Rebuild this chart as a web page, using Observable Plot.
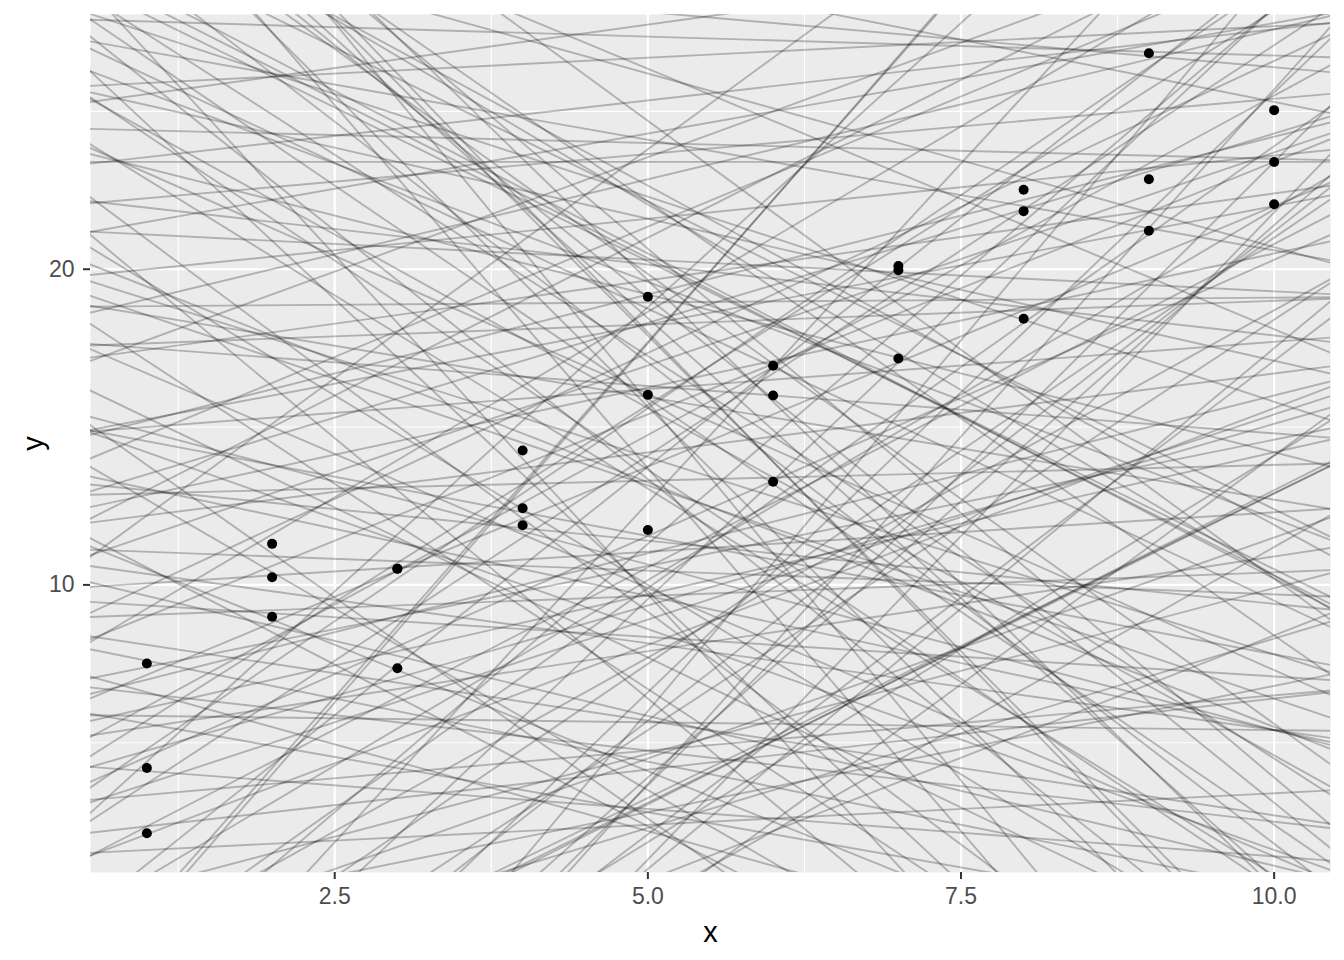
<!DOCTYPE html>
<html>
<head>
<meta charset="utf-8">
<script src="https://cdn.jsdelivr.net/npm/d3@7"></script>
<script src="https://cdn.jsdelivr.net/npm/@observablehq/plot@0.6"></script>
<style>
  html, body { margin: 0; padding: 0; background: white; }
  #chart svg { display: block; }
</style>
</head>
<body>
<div id="chart"></div>
<script>
// Observed points (sim1)
const xs = [1,1,1, 2,2,2, 3,3,3, 4,4,4, 5,5,5, 6,6,6, 7,7,7, 8,8,8, 9,9,9, 10,10,10];
const ys = [4.20,7.51,2.13, 8.99,10.24,11.30, 7.36,10.51,10.51, 12.43,11.89,14.26,
            19.13,11.74,16.02, 13.27,16.00,16.94, 20.10,17.17,19.97, 21.84,22.52,18.43,
            26.84,22.85,21.22, 25.04,23.40,22.06];

// Candidate models (intercept a1, slope a2)
const intercepts = [
  23.4, 18.8, 27.97, 33.2, 30.4, 30.0, 30.8, -6.7, -6.9, -6.4,
  -4.8, -5.1, 12.3, 5.2, 35.1, 38.5, 2.1, -12.4, 8.7, 15.6,
  21.9, 26.1, 11.2, -3.3, 16.9, 39.2, 0.8, -17.5, 7.4, 24.8,
  13.9, 19.7, 9.8, 4.4, 28.3, -9.8, 31.7, 17.2, 3.6, -1.2,
  22.4, 6.9, 36.7, -14.9, 14.5, 25.7, 10.6, 1.9, 33.8, -7.6,
  20.3, 8.1, 29.4, -2.5, 12.8, 37.4, 5.9, 18.1, -11.3, 27.1,
  15.0, 2.8, 23.9, 9.3, -19.2, 31.2, 7.7, 16.3, -5.7, 34.6,
  12.1, 21.3, 0.3, 26.6, 4.9, -8.9, 19.2, 38.9, 11.7, 6.3,
  24.2, -0.6, 14.2, 30.0, -13.6, 17.8, 3.2, 35.9, 8.9, 22.9,
  -4.1, 13.4, 28.8, 1.4, 20.8, 32.3, 10.2, -16.1, 25.3, 5.5,
  39.8, 15.9, -10.4, 19.6, 7.0, 27.6, -2.0, 12.6, 33.4, 2.4,
  23.1, 16.6, -7.1, 36.2, 9.6, 21.0, -18.3, 4.0, 29.9, 14.7,
  0.6, 26.9, 11.0, 18.4, -12.9, 31.9, 6.6, 24.5, -3.7, 37.9,
  13.1, 8.4, 22.0, -6.0, 17.5, 34.1, 3.0, 28.0, -15.5, 10.9,
  25.0, 1.1, 19.9, -9.2, 35.4, 6.0, 15.3, 29.1, -1.6, 12.0
];
const slopes = [
  0.00, 0.03, -0.12, -0.79, -2.01, -1.95, -2.06, 1.96, 1.99, 1.93,
  4.50, 4.55, 1.20, 0.90, -3.20, -4.10, 2.70, 3.80, -0.60, -1.40,
  0.35, -0.90, -0.15, 2.20, 0.55, -2.90, 3.60, 4.70, 1.60, -1.75,
  -0.85, -2.60, 0.25, -0.30, -3.70, 3.10, -1.10, -1.90, 1.15, 0.80,
  -0.45, 2.35, -4.60, 2.90, 0.75, 0.20, -0.95, 0.45, -2.35, 2.60,
  -1.25, 1.85, -2.70, 1.40, 0.10, -3.35, -0.05, 0.95, 2.25, -1.50,
  -2.30, 1.75, -2.95, 2.90, 4.10, -4.30, -1.10, 1.45, 3.40, -1.65,
  -1.60, -0.20, 2.05, -2.20, 0.60, 4.30, -0.65, -3.85, 0.50, -0.70,
  -1.00, 1.05, 1.00, -2.55, 3.50, -0.30, 2.50, -2.75, 0.15, -3.30,
  2.80, -0.40, -1.30, 0.20, 0.70, -3.05, 1.35, 3.95, -2.45, 1.65,
  -4.80, -1.05, 2.45, 0.40, -0.45, -0.70, 3.15, -2.05, -2.15, 1.30,
  0.45, -2.80, 1.55, -3.55, -0.25, -1.55, 4.40, 2.15, -0.35, 0.30,
  1.50, -2.65, 2.00, -1.70, 3.00, -1.95, 0.80, -0.10, 1.20, -4.00,
  1.65, -0.80, -2.40, 2.70, 0.15, -2.85, 0.35, -1.85, 3.30, -0.55,
  0.55, 2.60, -1.35, 3.75, -3.95, 1.00, -0.75, -3.15, 2.35, 0.85
];

const xTicks = [2.5, 5.0, 7.5, 10.0];
const xMinor = [1.25, 3.75, 6.25, 8.75];
const yTicks = [10, 20];
const yMinor = [5, 15, 25];
const xDomain = [0.55, 10.45];
const yDomain = [0.889, 28.07];

const points = xs.map((x, i) => ({x, y: ys[i]}));
const models = intercepts.map((a1, i) => ({a1, a2: slopes[i]}));

const font = "'Liberation Sans', Arial, sans-serif";

const chart = Plot.plot({
  width: 1344,
  height: 960,
  marginLeft: 90,
  marginRight: 14,
  marginTop: 14,
  marginBottom: 88,
  style: {fontFamily: font, background: "white", color: "#4D4D4D"},
  x: {domain: xDomain},
  y: {domain: yDomain},
  marks: [
    Plot.frame({fill: "#EBEBEB", stroke: null}),
    Plot.gridX(xMinor, {stroke: "white", strokeOpacity: 1, strokeWidth: 1.1}),
    Plot.gridY(yMinor, {stroke: "white", strokeOpacity: 1, strokeWidth: 1.1}),
    Plot.gridX(xTicks, {stroke: "white", strokeOpacity: 1, strokeWidth: 2.2}),
    Plot.gridY(yTicks, {stroke: "white", strokeOpacity: 1, strokeWidth: 2.2}),
    Plot.link(models, {
      x1: () => xDomain[0] - 1,
      x2: () => xDomain[1] + 1,
      y1: d => d.a1 + d.a2 * (xDomain[0] - 1),
      y2: d => d.a1 + d.a2 * (xDomain[1] + 1),
      stroke: "black",
      strokeOpacity: 0.25,
      strokeWidth: 1.9,
      clip: true
    }),
    Plot.dot(points, {x: "x", y: "y", r: 5, fill: "black", stroke: null}),
    Plot.axisX(xTicks, {tickSize: 7, tickPadding: 8, fontSize: 23, stroke: "#333333", strokeWidth: 2, color: "#4D4D4D", tickFormat: d3.format(".1f"), label: null}),
    Plot.axisY(yTicks, {tickSize: 7, tickPadding: 9, fontSize: 23, stroke: "#333333", strokeWidth: 2, color: "#4D4D4D", label: null}),
    Plot.text(["x"], {frameAnchor: "bottom", dy: 60, fontSize: 29, fill: "black", textAnchor: "middle", lineAnchor: "middle", text: d => d}),
    Plot.text(["y"], {frameAnchor: "left", dx: -57, rotate: -90, fontSize: 29, fill: "black", textAnchor: "middle", lineAnchor: "middle", text: d => d})
  ]
});
document.getElementById("chart").appendChild(chart);
</script>
</body>
</html>
